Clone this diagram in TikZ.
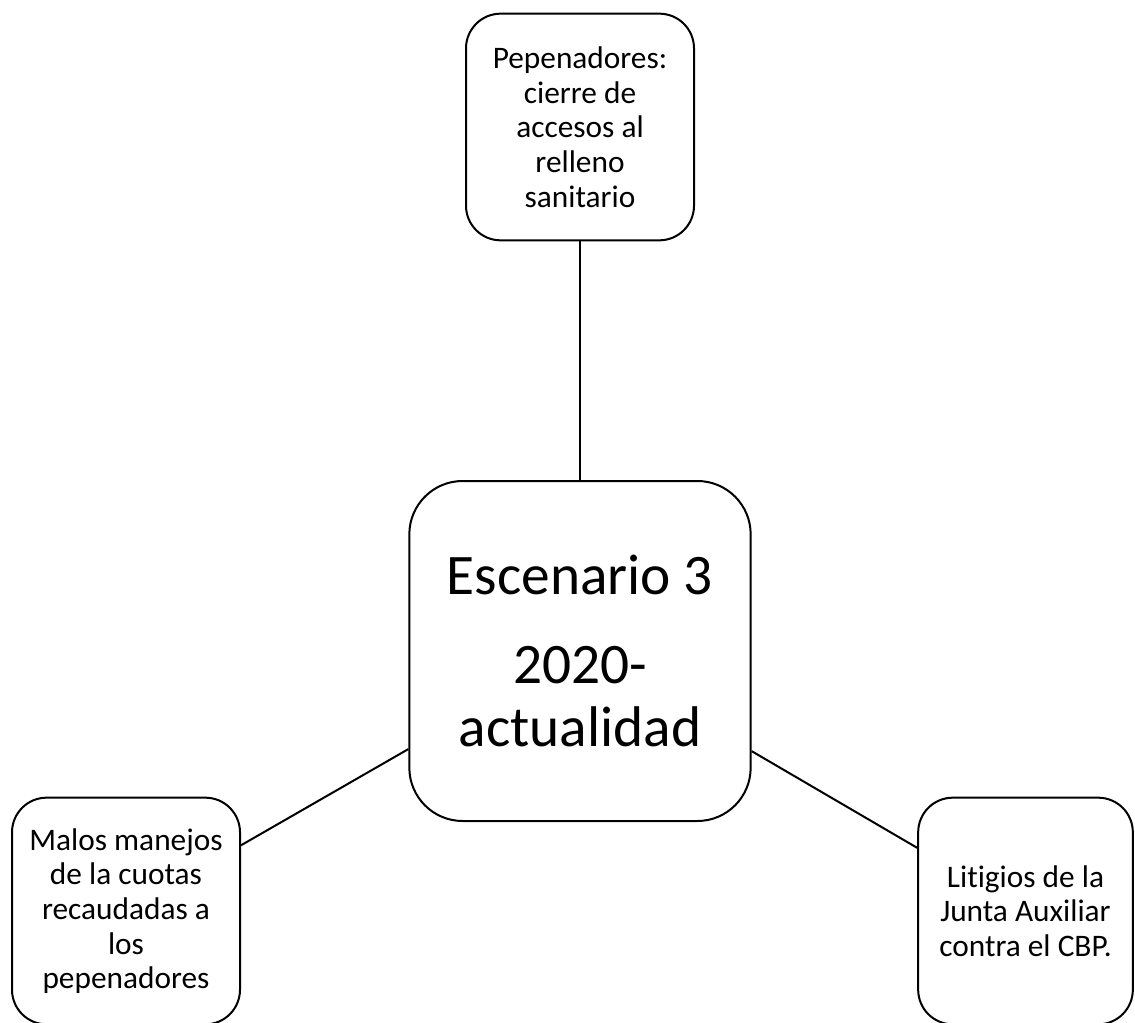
\documentclass[tikz,border=0pt]{standalone}
\usepackage{fontspec}
\setmainfont[Ligatures=NoCommon]{Carlito}
\usepackage{tikz}

\begin{document}
\begin{tikzpicture}[x=0.75pt,y=-0.75pt,line width=1.5pt,
  tema/.style={draw,rounded corners=26pt,align=center,inner sep=0pt,
    minimum width=171pt,minimum height=170pt,font=\fontsize{23.5}{26}\selectfont},
  centro/.style={draw,rounded corners=40pt,align=center,inner sep=0pt,
    minimum width=256pt,minimum height=255pt,font=\fontsize{43}{47}\selectfont}]
\useasboundingbox (0,0) rectangle (1135,1023);
\node[centro] (esc) at (580,651) {Escenario 3\\[20pt]2020-\\actualidad};
\node[tema] (pep) at (580,127) {Pepenadores:\\cierre de\\accesos al\\relleno\\sanitario};
\node[tema] (mal) at (126,911) {Malos manejos\\de la cuotas\\recaudadas a\\los\\pepenadores};
\node[tema,minimum width=161pt] (lit) at (1025.5,911) {Litigios de la\\Junta Auxiliar\\contra el CBP.};
\draw (pep) -- (esc);
\draw (esc) -- (mal);
\draw (esc) -- (lit);
\end{tikzpicture}
\end{document}
